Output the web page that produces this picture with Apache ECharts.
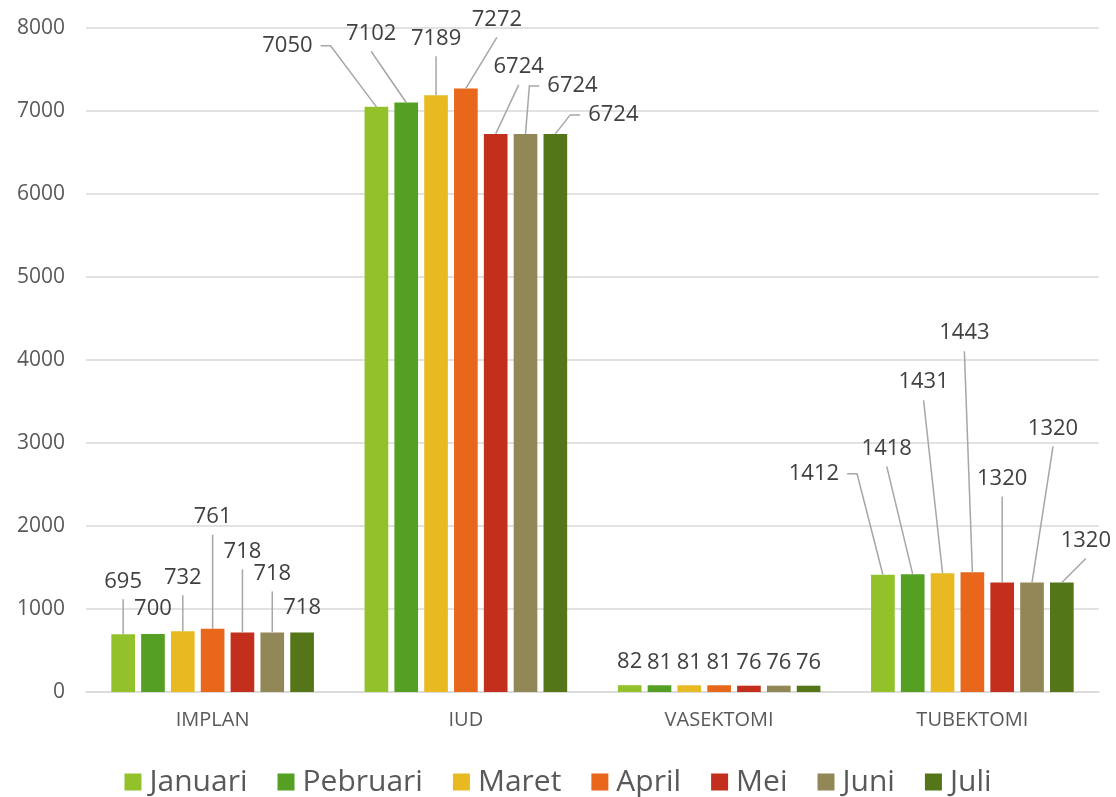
<!DOCTYPE html>
<html>
<head>
<meta charset="utf-8">
<script src="https://cdn.jsdelivr.net/npm/echarts@6/dist/echarts.min.js"></script>
<style>
  html, body { margin: 0; padding: 0; background: #fff; }
  #chart { width: 1116px; height: 797px; }
</style>
</head>
<body>
<div id="chart"></div>
<script>
// kategori dan nilai per bulan
var categories = ["IMPLAN", "IUD", "VASEKTOMI", "TUBEKTOMI"];
var months = ["Januari", "Pebruari", "Maret", "April", "Mei", "Juni", "Juli"];
var januari = [695, 7050, 82, 1412];
var pebruari = [700, 7102, 81, 1418];
var maret = [732, 7189, 81, 1431];
var april = [761, 7272, 81, 1443];
var mei = [718, 6724, 76, 1320];
var juni = [718, 6724, 76, 1320];
var juli = [718, 6724, 76, 1320];
var yTicks = [0, 1000, 2000, 3000, 4000, 5000, 6000, 7000, 8000];

var values = [januari, pebruari, maret, april, mei, juni, juli];
var colors = ["#93c12a", "#55a022", "#e8b920", "#e8671a", "#c42e1c", "#928756", "#557519"];

// geser label (dx, dy) per bulan per kategori, supaya mirip callout excel
var labelShift = [
    [[0, -30], [-89, -38], [0, 0], [-69, -78]],
    [[0, -2], [-35, -46], [0, 0], [-26, -103]],
    [[0, -31], [0, -34], [0, 0], [-19, -168]],
    [[0, -89], [31, -46], [0, 0], [-8, -216]],
    [[0, -58], [23, -44], [0, 0], [0, -81]],
    [[0, -36], [47, -25], [0, 0], [21, -131]],
    [[0, -2], [58, 4], [0, 0], [24, -19]]
];
// jenis garis: 0 = tanpa garis, 1 = dari bawah label, 2 = dari samping label
var lineType = [
    [1, 2, 0, 2],
    [0, 1, 0, 1],
    [1, 1, 0, 1],
    [1, 1, 0, 1],
    [1, 1, 0, 1],
    [1, 2, 0, 1],
    [0, 2, 0, 1]
];

var font = "Open Sans";
var labelSize = 22;
var barGap = 0.26;
var catGap = 0.2;

var ctx = document.createElement("canvas").getContext("2d");
ctx.font = labelSize + "px '" + font + "'";
function textWidth(t) {
    return ctx.measureText(String(t)).width;
}

var series = months.map(function (name, s) {
    return {
        name: name,
        type: "bar",
        barGap: barGap * 100 + "%",
        barCategoryGap: catGap * 100 + "%",
        itemStyle: { color: colors[s] },
        data: values[s],
        label: {
            show: true,
            position: "top",
            distance: 5,
            color: "#404040",
            fontFamily: font,
            fontSize: labelSize,
            lineHeight: labelSize,
            padding: [0, 0, 7, 0]
        },
        labelLayout: function (p) {
            var d = labelShift[p.seriesIndex][p.dataIndex];
            return { dx: d[0], dy: d[1] };
        }
    };
});

// garis penunjuk label (callout)
var leaderData = [];
values.forEach(function (arr, s) {
    arr.forEach(function (v, c) {
        if (lineType[s][c]) leaderData.push([c, v, s]);
    });
});

series.push({
    type: "custom",
    silent: true,
    z: 3,
    data: leaderData,
    renderItem: function (params, api) {
        var c = api.value(0), v = api.value(1), s = api.value(2);
        var top = api.coord([c, v]);
        var band = api.size([1, 0])[0];
        var bw = band * (1 - catGap) / (months.length + (months.length - 1) * barGap);
        var x = top[0] - band * (1 - catGap) / 2 + bw / 2 + s * bw * (1 + barGap);
        var y = top[1];
        var sh = labelShift[s][c];
        var lx = x + sh[0];
        var ly = y - 5 - 7 - labelSize / 2 + sh[1];
        var pts;
        if (lineType[s][c] === 2) {
            var half = textWidth(v) / 2;
            var side = sh[0] < 0 ? 1 : -1;
            var sx = lx + side * (half + 8);
            pts = [[sx, ly], [sx + side * 10, ly], [x, y]];
        } else {
            pts = [[lx, ly + labelSize / 2 + 7], [x, y]];
        }
        return {
            type: "polyline",
            shape: { points: pts },
            style: { stroke: "#a6a6a6", lineWidth: 1.5, fill: null }
        };
    }
});

var myChart = echarts.init(document.getElementById("chart"));
var option = {
    animation: false,
    color: colors,
    grid: {
        left: 86,
        right: 17,
        top: 28,
        bottom: 105
    },
    legend: {
        data: months,
        top: 762,
        left: "center",
        icon: "rect",
        itemWidth: 17,
        itemHeight: 17,
        itemGap: 30,
        textStyle: {
            color: "#595959",
            fontFamily: font,
            fontSize: 30,
            padding: [0, 0, 0, 3]
        }
    },
    xAxis: {
        type: "category",
        data: categories,
        axisTick: { show: false },
        axisLine: { lineStyle: { color: "#d9d9d9", width: 1.5 } },
        axisLabel: {
            color: "#595959",
            fontFamily: font,
            fontSize: 20,
            margin: 18
        }
    },
    yAxis: {
        type: "value",
        min: yTicks[0],
        max: yTicks[yTicks.length - 1],
        interval: 1000,
        axisLine: { show: false },
        axisTick: { show: false },
        splitLine: { lineStyle: { color: "#d9d9d9", width: 1.5 } },
        axisLabel: {
            color: "#595959",
            fontFamily: font,
            fontSize: 21,
            margin: 21,
            formatter: function (v) { return String(v); }
        }
    },
    series: series
};
myChart.setOption(option);
</script>
</body>
</html>
